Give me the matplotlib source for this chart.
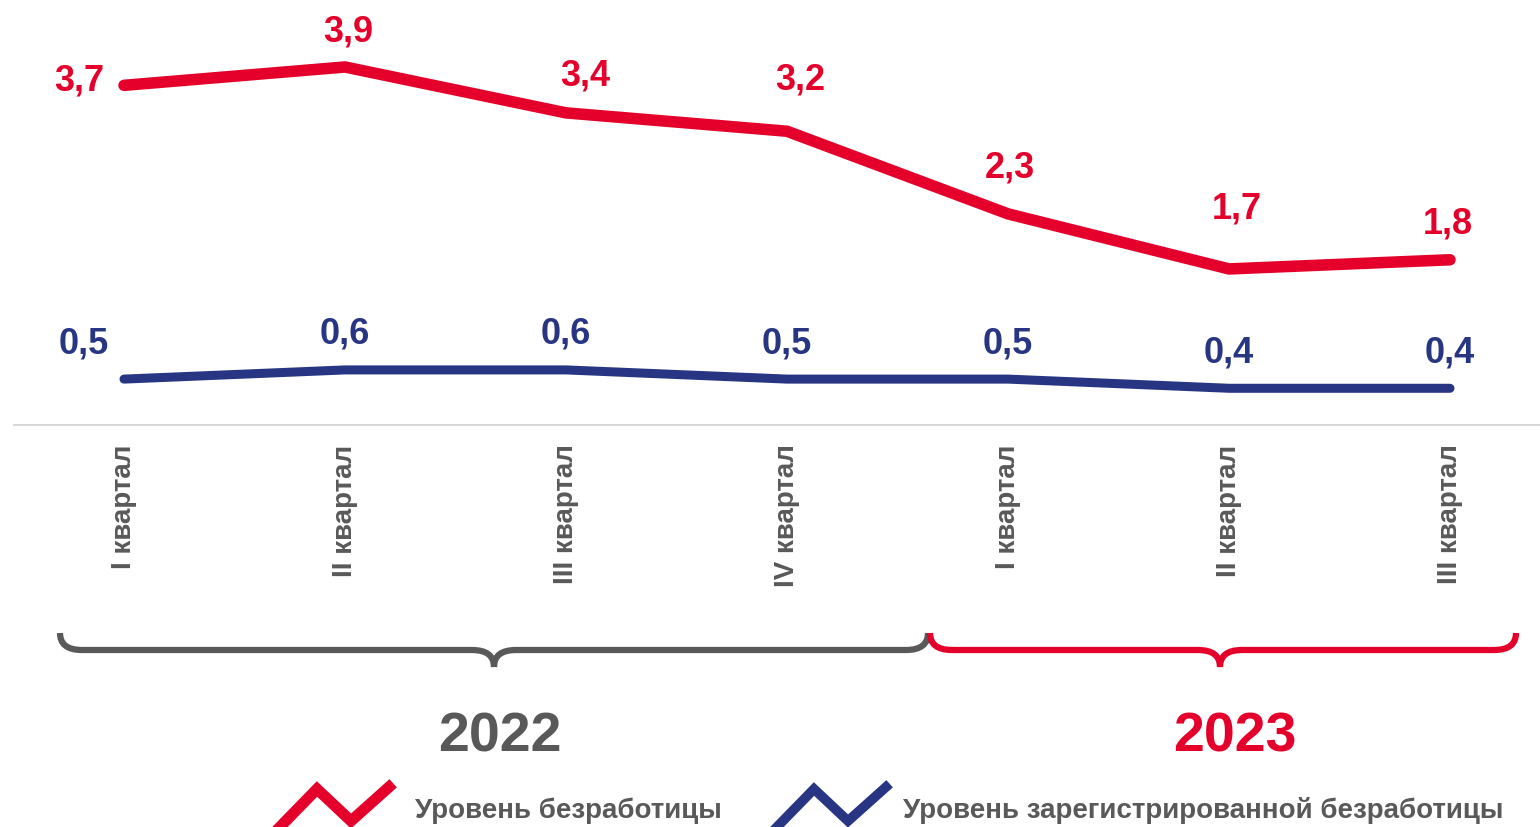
import matplotlib
matplotlib.use("Agg")
from matplotlib import pyplot as plt
from matplotlib.path import Path
from matplotlib.patches import PathPatch
from matplotlib.lines import Line2D

plt.rcParams['font.family'] = ['Liberation Sans', 'DejaVu Sans']
plt.rcParams['font.weight'] = 'bold'

quarters = ["I квартал", "II квартал", "III квартал", "IV квартал",
            "I квартал", "II квартал", "III квартал"]
unemployment = [3.7, 3.9, 3.4, 3.2, 2.3, 1.7, 1.8]
registered = [0.5, 0.6, 0.6, 0.5, 0.5, 0.4, 0.4]
years = ["2022", "2023"]
legend_labels = ["Уровень безработицы", "Уровень зарегистрированной безработицы"]

RED = "#E4002B"
BLUE = "#283583"
GRAY = "#595959"

W, H = 1540, 827
fig = plt.figure(figsize=(W / 100, H / 100), dpi=100)


def px(x, y):
    return (x / W, 1 - y / H)


ax = fig.add_axes([14 / W, 1 - 425 / H, 1526 / W, 425 / H])
ax.set_xlim(-110 / 221, (1540 - 124) / 221)
ax.set_ylim(0, 425 / 91.8)

xs = list(range(len(quarters)))
ax.plot(xs, unemployment, color=RED, lw=8.3, solid_capstyle='round', solid_joinstyle='miter')
ax.plot(xs, registered, color=BLUE, lw=6.5, solid_capstyle='round', solid_joinstyle='miter')

# label offsets in pixels (dx, dy up) relative to each point, baseline anchored
red_off = [(-45, -5), (3, 25), (19, 27), (13, 42), (2, 36), (8, 50), (-2, 26)]
blue_off = [(-40, 26)] + [(0, 26)] * 6
for i, v in enumerate(unemployment):
    ax.annotate(f"{v:.1f}".replace(".", ","), (i, v), xytext=red_off[i], textcoords='offset pixels',
                ha='center', va='baseline', color=RED, fontsize=26, fontweight='bold')
for i, v in enumerate(registered):
    ax.annotate(f"{v:.1f}".replace(".", ","), (i, v), xytext=blue_off[i], textcoords='offset pixels',
                ha='center', va='baseline', color=BLUE, fontsize=26, fontweight='bold')

for s in ['top', 'left', 'right']:
    ax.spines[s].set_visible(False)
ax.spines['bottom'].set_color('#D9D9D9')
ax.spines['bottom'].set_linewidth(1.5)
ax.set_yticks([])
ax.set_xticks(xs)
ax.set_xticklabels(quarters, rotation=90, fontsize=20, color=GRAY, fontweight='bold')
ax.tick_params(axis='x', length=0, pad=14)


def brace(x0, x1, xm, color):
    top, mid, tip, r = 633, 650, 667, 22
    verts = [px(x0, top), px(x0, mid), px(x0 + r, mid),
             px(xm - r, mid), px(xm, mid), px(xm, tip),
             px(xm, mid), px(xm + r, mid),
             px(x1 - r, mid), px(x1, mid), px(x1, top)]
    codes = [Path.MOVETO, Path.CURVE3, Path.CURVE3,
             Path.LINETO, Path.CURVE3, Path.CURVE3,
             Path.CURVE3, Path.CURVE3,
             Path.LINETO, Path.CURVE3, Path.CURVE3]
    fig.patches.append(PathPatch(Path(verts, codes), fill=False, edgecolor=color, lw=4.5,
                                 transform=fig.transFigure, capstyle='butt'))


brace(60, 928, 494, GRAY)
brace(930, 1516, 1220, RED)

fig.text(*px(500, 752), years[0], ha='center', va='baseline', color=GRAY, fontsize=40, fontweight='bold')
fig.text(*px(1235, 752), years[1], ha='center', va='baseline', color=RED, fontsize=40, fontweight='bold')

# legend icons
for dx, color, lw in [(0, RED, 8.0), (497, BLUE, 7.0)]:
    pts = [(277 + dx, 830), (317 + dx, 789), (351 + dx, 821), (389 + dx, 787)]
    fig.lines.append(Line2D([px(*p)[0] for p in pts], [px(*p)[1] for p in pts],
                            color=color, lw=lw, transform=fig.transFigure, solid_joinstyle='miter'))

fig.text(*px(415, 818), legend_labels[0], ha='left', va='baseline', color=GRAY, fontsize=20, fontweight='bold')
fig.text(*px(903, 818), legend_labels[1], ha='left', va='baseline', color=GRAY, fontsize=20, fontweight='bold')

fig.savefig("out.png", dpi=100)
